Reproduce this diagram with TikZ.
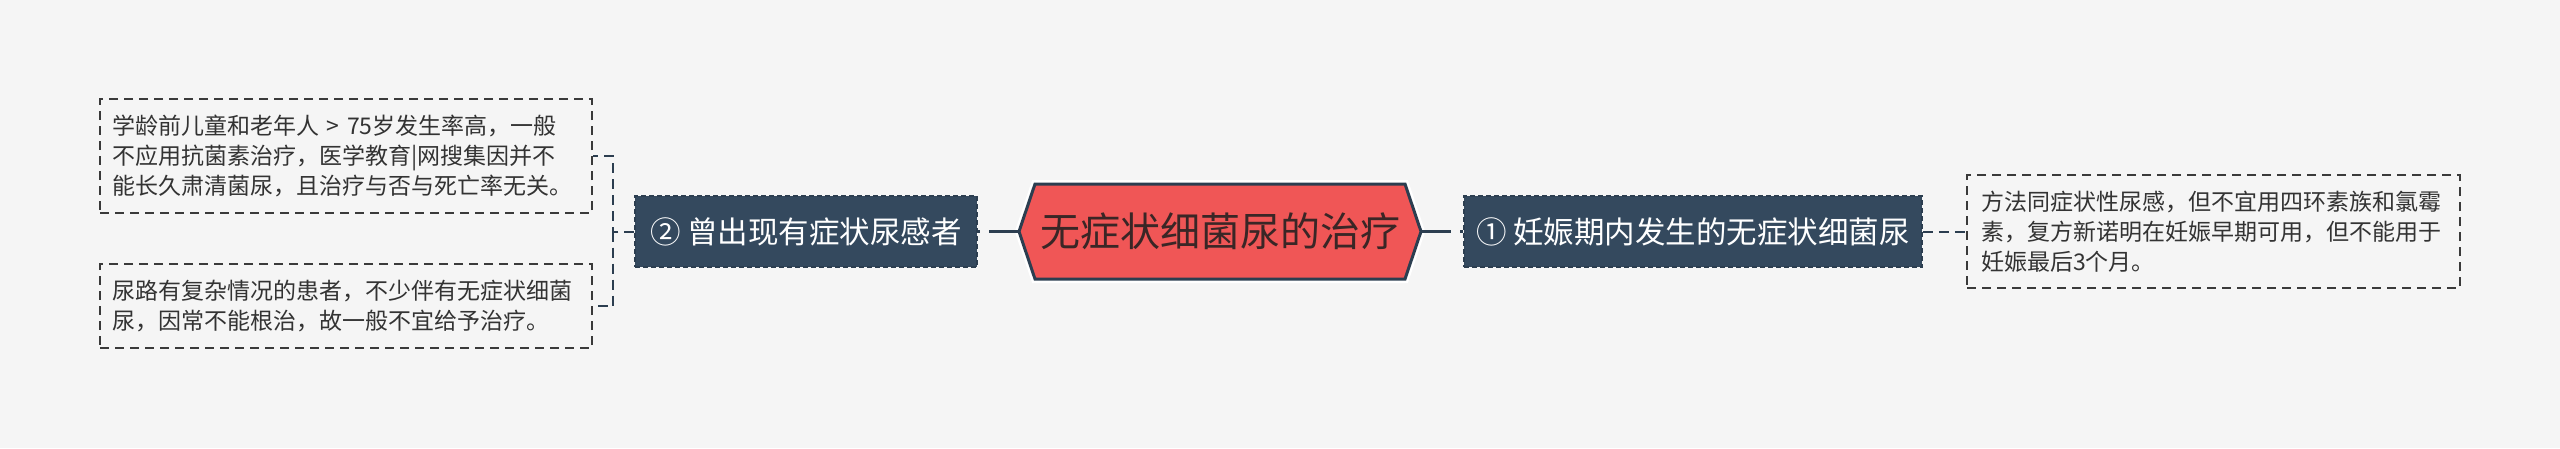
\documentclass[tikz,border=0pt]{standalone}
\usepackage{fontspec}
\newfontfamily\cjk{Noto Sans CJK SC}
\definecolor{bgc}{HTML}{F5F5F5}
\definecolor{navy}{HTML}{34495E}
\definecolor{navyline}{HTML}{2C3E50}
\definecolor{rootred}{HTML}{F05656}
\definecolor{roottext}{HTML}{3A2626}
\definecolor{boxline}{HTML}{3A3A3A}
\definecolor{boxtext}{HTML}{333333}
\begin{document}
\begin{tikzpicture}[x=1pt,y=-1pt,
  notebox/.style={rectangle, draw=boxline, line width=2pt, dash pattern=on 9pt off 6pt,
    fill=bgc, inner xsep=12pt, inner ysep=0pt, align=left, text=boxtext,
    font=\cjk\fontsize{23pt}{30pt}\selectfont},
  topic/.style={rectangle, fill=navy, draw=navyline, line width=1.5pt,
    dash pattern=on 5pt off 3pt, text=white, inner sep=0pt, minimum height=71pt,
    font=\cjk\fontsize{30.5pt}{36pt}\selectfont},
  rootnode/.style={rectangle, inner sep=0pt, minimum width=402pt, minimum height=95pt,
    text=roottext, font=\cjk\fontsize{40pt}{48pt}\selectfont},
  rootlink/.style={draw=navyline, line width=3pt, dash pattern=on 30pt off 9pt},
  notelink/.style={draw=navyline, line width=2pt, dash pattern=on 10pt off 6pt}
]
\useasboundingbox (0,0) rectangle (2560,448);
\fill[bgc] (0,0) rectangle (2560,448);

% root hexagon
\draw[white, line width=8pt, line join=miter]
  (1019,231.5) -- (1035,184) -- (1405,184) -- (1421,231.5) -- (1405,279) -- (1035,279) -- cycle;
\filldraw[fill=rootred, draw=navyline, line width=3pt, line join=miter]
  (1019,231.5) -- (1035,184) -- (1405,184) -- (1421,231.5) -- (1405,279) -- (1035,279) -- cycle;
\node[rootnode] (root) at (1220,231.5) {无症状细菌尿的治疗};

% main topics
\node[topic, minimum width=342pt] (n2) at (806,231.5) {② 曾出现有症状尿感者};
\node[topic, minimum width=458pt] (n1) at (1693,231.5) {① 妊娠期内发生的无症状细菌尿};

% notes
\node[notebox, text width=468pt, minimum height=114pt] (b1) at (346,156)
  {学龄前儿童和老年人 > 75岁发生率高，一般\\不应用抗菌素治疗，医学教育|网搜集因并不\\能长久肃清菌尿，且治疗与否与死亡率无关。};
\node[notebox, text width=468pt, minimum height=84pt] (b2) at (346,306)
  {尿路有复杂情况的患者，不少伴有无症状细菌\\尿，因常不能根治，故一般不宜给予治疗。};
\node[notebox, inner xsep=14pt, text width=465pt, minimum height=113pt] (b3) at (2213.5,231.5)
  {方法同症状性尿感，但不宜用四环素族和氯霉\\素，复方新诺明在妊娠早期可用，但不能用于\\妊娠最后3个月。};

% connectors
\draw[rootlink] (root.west) -- (n2.east);
\draw[rootlink] (root.east) -- (n1.west);
\draw[notelink] (n1.east) -- (b3.west);
\coordinate (lj) at (613,231.5);
\draw[notelink] (n2.west) -- (lj) |- (b1.east);
\draw[notelink] (lj) |- (b2.east);
\end{tikzpicture}
\end{document}
